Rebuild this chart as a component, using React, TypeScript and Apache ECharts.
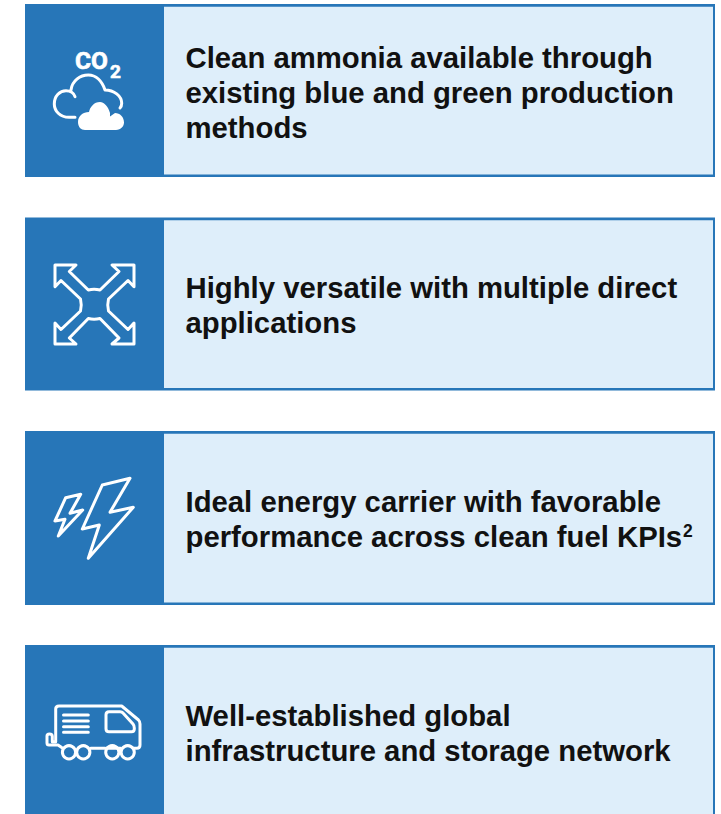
import React, { useEffect, useRef } from "react";
import * as echarts from "echarts";

const panelLines: string[][] = [
  ["Clean ammonia available through", "existing blue and green production", "methods"],
  ["Highly versatile with multiple direct", "applications"],
  ["Ideal energy carrier with favorable", "performance across clean fuel KPIs"],
  ["Well-established global", "infrastructure and storage network"],
];
const panelTops = [4, 217.5, 431, 645];
const panelBottoms = [177, 390.5, 605, 830];
const firstBaselines = [72, 302, 516, 730];

const DARK = "#2776b8";
const LIGHT = "#deeefa";
const INK = "#111111";

const cloudOutline =
  "M75 117.3 H69 C60 117.3 54.3 111 54.3 104 C54.3 96 60 90.7 66 90.7 C70 90.7 74 93 75 96.7 M71 90 C72 81 80 75 88.3 75 C96 75 102 81 105 90 C114 90 121.7 96 121.7 103.3 C121.7 105 121 107 120 108";
const cloudFill =
  "M85 130 H116 C121 130 124 126 124 122.5 C124 117 120 113 115 113 L110 116.5 L110 113 C108 106 104 102 100 102 C94 102 90 107 89 112 C83 112 78 116 78 122 C78 127 81 130 85 130 Z";
const arrows =
  "M55 265 H76 L69.3 271.5 L88.3 290 Q94 288.5 100 290 L119 271.5 L112 265 H134 V286.7 L128 280.5 L108.5 299 Q107 305 108.5 311 L128 329.5 L134 323 V344 H112 L119 338 L100 318.5 Q94 320 88.3 318.5 L69.3 338 L76 344 H55 V323 L61 329.5 L80.5 311 Q82 305 80.5 299 L61 280.5 L55 286.7 Z";
const boltLarge = "M130 478.3 L102.3 485 L82.3 529 L99.3 525 L88.3 558.3 L133.3 507.3 L110 512.3 Z";
const boltSmall = "M80.7 494.3 L65.7 497.7 L55 521 L65 519.3 L58.3 536 L82.7 510 L70 513.3 Z";
const truckBody =
  "M61.7 747.5 L58 745 H49 Q47 745 47 743 V736 Q47 734 49.5 734 Q52.3 734 52.3 736.5 V741.7 H55.7 V709 Q55.7 706 59 706 H121.7 L138.5 720 Q140 721.5 140 724 V745 Q140 748.3 137 748.3 H133.5 M120.5 748.3 H106 M90.7 748.3 H105";
const truckWindow =
  "M109 711.7 H120 Q122 711.7 123 713 L133 724 Q134.3 725.5 134.3 728 V729 Q134.3 731.7 131.5 731.7 H109 Q106 731.7 106 728.7 V714.7 Q106 711.7 109 711.7 Z";
const truckRows = "M63.5 715 H88.3 M63.5 721 H88.3 M63.5 726.7 H88.3 M63.5 732.3 H88.3";

const iconPaths: [string, string][] = [
  ["cloudOutline", cloudOutline],
  ["cloudFill", cloudFill],
  ["arrows", arrows],
  ["boltLarge", boltLarge],
  ["boltSmall", boltSmall],
  ["truckBody", truckBody],
  ["truckWindow", truckWindow],
  ["truckRows", truckRows],
];
iconPaths.forEach(([name, d]) => {
  echarts.graphic.registerShape(name, echarts.graphic.extendPath(d, {}) as any);
});

const wheelX = [69, 83.3, 112.3, 127.7];

function stroke(type: string) {
  return {
    type,
    x: 0,
    y: 0,
    z: 5,
    style: { fill: "none", stroke: "#ffffff", lineWidth: 3, lineJoin: "round", lineCap: "round" },
  };
}

export default function App() {
  const ref = useRef<HTMLDivElement>(null);
  useEffect(() => {
    const chart = echarts.init(ref.current!, undefined, { renderer: "svg" });
    const elements: any[] = [];
    panelLines.forEach((lines, i) => {
      const top = panelTops[i];
      const bottom = panelBottoms[i];
      elements.push({
        type: "rect",
        z: 1,
        shape: { x: 25, y: top, width: 690, height: bottom - top },
        style: { fill: DARK },
      });
      elements.push({
        type: "rect",
        z: 2,
        shape: { x: 164, y: top + 2.7, width: 549, height: bottom - top - 5.2 },
        style: { fill: LIGHT },
      });
      lines.forEach((line, j) => {
        elements.push({
          type: "text",
          z: 6,
          x: 185.5,
          y: firstBaselines[i] + j * 35,
          style: {
            text: line,
            fill: INK,
            font: 'bold 29.3px "Liberation Sans", Arial, sans-serif',
            textAlign: "left",
            textVerticalAlign: "bottom",
          },
        });
      });
    });
    elements.push({
      type: "text",
      z: 6,
      x: 683,
      y: 540,
      style: { text: "2", fill: INK, font: 'bold 17.5px "Liberation Sans", Arial, sans-serif', textVerticalAlign: "bottom" },
    });
    elements.push({
      type: "text",
      z: 6,
      x: 75,
      y: 72.5,
      style: { text: "CO", fill: "#ffffff", stroke: "#ffffff", lineWidth: 0.6, font: 'bold 24.5px "Roboto", sans-serif', textVerticalAlign: "bottom" },
    });
    elements.push({
      type: "text",
      z: 6,
      x: 110,
      y: 81,
      style: { text: "2", fill: "#ffffff", stroke: "#ffffff", lineWidth: 0.6, font: 'bold 19px "Roboto", sans-serif', textVerticalAlign: "bottom" },
    });
    elements.push(stroke("cloudOutline"));
    elements.push({ type: "cloudFill", z: 5, x: 0, y: 0, style: { fill: "#ffffff" } });
    ["arrows", "boltLarge", "boltSmall", "truckBody", "truckWindow", "truckRows"].forEach((t) => elements.push(stroke(t)));
    wheelX.forEach((cx) =>
      elements.push({
        type: "circle",
        z: 5,
        shape: { cx, cy: 752.3, r: 6.6 },
        style: { fill: "none", stroke: "#ffffff", lineWidth: 3 },
      })
    );
    chart.setOption({ animation: false, backgroundColor: "#ffffff", graphic: { elements } });
    return () => chart.dispose();
  }, []);
  return <div ref={ref} style={{ position: "absolute", left: 0, top: 0, width: 721, height: 814 }} />;
}
